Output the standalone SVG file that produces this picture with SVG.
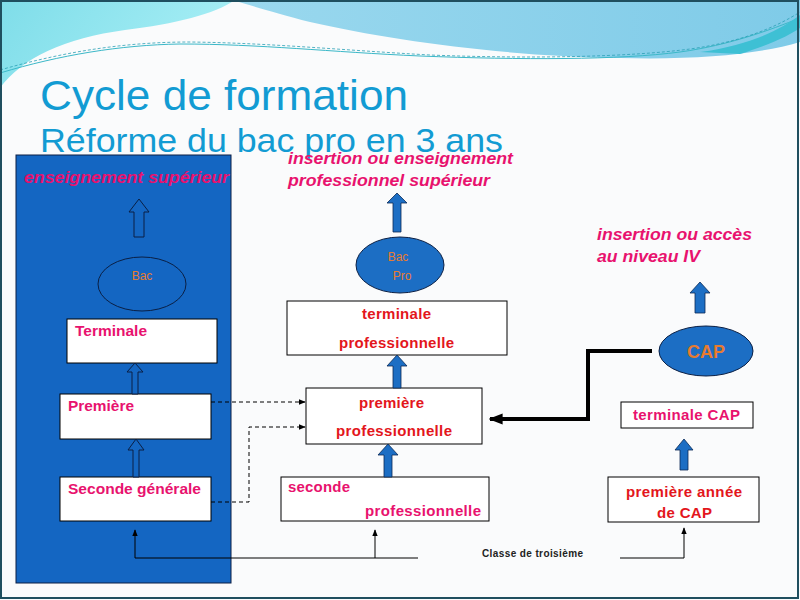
<svg xmlns="http://www.w3.org/2000/svg" width="800" height="600" viewBox="0 0 800 600">
<defs>
<linearGradient id="cy" x1="0" y1="0" x2="1" y2="0.3"><stop offset="0" stop-color="#7fdde9"/><stop offset="1" stop-color="#a6eef5"/></linearGradient>
<linearGradient id="bl" x1="0" y1="0" x2="1" y2="0"><stop offset="0" stop-color="#9ad8ee"/><stop offset="1" stop-color="#7fcbe8"/></linearGradient>
<marker id="ah" viewBox="0 0 10 10" refX="9" refY="5" markerWidth="7" markerHeight="7" orient="auto-start-reverse" markerUnits="userSpaceOnUse"><path d="M0,1 L10,5 L0,9 Z" fill="#000"/></marker>
<marker id="ahb" viewBox="0 0 10 10" refX="9" refY="5" markerWidth="14" markerHeight="14" orient="auto" markerUnits="userSpaceOnUse"><path d="M0,1 L10,5 L0,9 Z" fill="#000"/></marker>
</defs>
<style>
.mag{fill:#e8126e;font-family:"Liberation Sans",Arial,sans-serif;font-weight:bold}
.red{fill:#e3161c;font-family:"Liberation Sans",Arial,sans-serif;font-weight:bold;font-size:15px}
.it{font-style:italic;font-size:16.5px}
.box{fill:#fff;stroke:#000;stroke-width:1}
.org{fill:#e87b2f;font-family:"Liberation Sans",Arial,sans-serif}
.barrow{fill:#1c6ec4;stroke:#0a2a55;stroke-width:0.8}
.harrow{fill:#1466c2;stroke:#0a1f44;stroke-width:1}
.ttl{fill:#129bd3;font-family:"Liberation Sans",Arial,sans-serif}
.thin{stroke:#000;stroke-width:1;fill:none}
.dash{stroke:#000;stroke-width:1;fill:none;stroke-dasharray:4,3}
</style>
<rect x="0" y="0" width="800" height="600" fill="#fafbfc"/>
<g id="header">
<path d="M0,0 L235,0 C215,14 175,24 125,30 C65,38 22,58 0,88 Z" fill="url(#cy)"/>
<path d="M232,0 L800,0 L800,42 C760,54 700,60 620,58 C500,56 390,40 310,22 C275,13 250,5 232,0 Z" fill="url(#bl)"/>
<path d="M0,73 C60,55 120,45 180,44 C260,44 330,52 420,56 C520,60 620,60 680,52 C730,45 770,30 800,18" fill="none" stroke="#3bb8c8" stroke-width="1"/>
<path d="M0,70 C70,50 130,42 190,42 C270,43 340,50 430,55 C530,59 630,57 690,49 C740,42 775,28 800,12" fill="none" stroke="#2a9fb5" stroke-width="0.8" stroke-dasharray="3,2"/>
<path d="M800,15 C780,30 750,45 700,52 L740,54 C770,45 790,35 800,28 Z" fill="#3ec0d4"/>
</g>
<rect x="1" y="1" width="797" height="597" fill="none" stroke="#1f4f5f" stroke-width="2"/>
<text x="40" y="110" class="ttl" font-size="42" textLength="368" lengthAdjust="spacingAndGlyphs">Cycle de formation</text>
<text x="40" y="152" class="ttl" font-size="34" textLength="463" lengthAdjust="spacingAndGlyphs">Réforme du bac pro en 3 ans</text>
<g id="panel">
<rect x="16" y="155" width="215" height="428" fill="#1466c2" stroke="#0a1f44" stroke-width="1"/>
<text x="24" y="183" class="mag it" style="font-size:16px" textLength="205" lengthAdjust="spacingAndGlyphs">enseignement supérieur</text>
</g>
<g id="arrow-sup">
<path d="M134,237 L134,212 L129,212 L139,199 L149,212 L144,212 L144,237 Z" class="harrow"/>
</g>
<g id="bac">
<ellipse cx="142" cy="284" rx="44" ry="27" fill="none" stroke="#0a1f44" stroke-width="1"/>
<text x="142" y="280" class="org" font-size="12" text-anchor="middle">Bac</text>
</g>
<g id="terminale">
<rect x="67" y="319" width="150" height="44" class="box"/>
<text x="75" y="336" class="mag" font-size="15" textLength="72" lengthAdjust="spacingAndGlyphs">Terminale</text>
</g>
<g id="premiere">
<rect x="60" y="394" width="151" height="45" class="box"/>
<text x="68" y="411" class="mag" font-size="15" textLength="66" lengthAdjust="spacingAndGlyphs">Première</text>
</g>
<g id="seconde-generale">
<rect x="60" y="477" width="151" height="44" class="box"/>
<text x="68" y="494" class="mag" font-size="15" textLength="133" lengthAdjust="spacingAndGlyphs">Seconde générale</text>
</g>
<g id="col-mid-title">
<text x="288" y="164" class="mag it" textLength="225" lengthAdjust="spacingAndGlyphs">insertion ou enseignement</text>
<text x="288" y="186" class="mag it" textLength="202" lengthAdjust="spacingAndGlyphs">professionnel supérieur</text>
</g>
<g id="bac-pro">
<ellipse cx="400" cy="265" rx="44" ry="28" fill="#1c6ec4" stroke="#0a1f44" stroke-width="1"/>
<text x="398" y="261" class="org" font-size="12" text-anchor="middle">Bac</text>
<text x="402" y="280" class="org" font-size="12" text-anchor="middle">Pro</text>
</g>
<g id="terminale-pro">
<rect x="287" y="301" width="220" height="54" class="box"/>
<text x="362" y="319" class="red" textLength="69">terminale</text>
<text x="339" y="348" class="red" textLength="115">professionnelle</text>
</g>
<g id="premiere-pro">
<rect x="306" y="388" width="176" height="56" class="box"/>
<text x="359" y="408" class="red" textLength="65">première</text>
<text x="336" y="436" class="red" textLength="116">professionnelle</text>
</g>
<g id="seconde-pro">
<rect x="281" y="477" width="208" height="44" class="box"/>
<text x="288" y="492" class="mag" font-size="15" textLength="62">seconde</text>
<text x="365" y="516" class="mag" font-size="15" textLength="116">professionnelle</text>
</g>
<g id="col-right-title">
<text x="597" y="240" class="mag it" textLength="155" lengthAdjust="spacingAndGlyphs">insertion ou accès</text>
<text x="597" y="262" class="mag it" textLength="103" lengthAdjust="spacingAndGlyphs">au niveau IV</text>
</g>
<g id="cap">
<ellipse cx="706" cy="351" rx="47" ry="25" fill="#1c6ec4" stroke="#0a1f44" stroke-width="1"/>
<text x="706" y="358" class="org" font-size="18" font-weight="bold" text-anchor="middle">CAP</text>
</g>
<g id="terminale-cap">
<rect x="621" y="402" width="132" height="26" class="box"/>
<text x="633" y="420" class="mag" font-size="15" textLength="107">terminale CAP</text>
</g>
<g id="premiere-cap">
<rect x="608" y="477" width="151" height="45" class="box"/>
<text x="626" y="497" class="red" textLength="116">première année</text>
<text x="657" y="518" class="red" textLength="55">de CAP</text>
</g>
<text x="482" y="557" font-family="Liberation Sans,Arial,sans-serif" font-size="10" font-weight="bold" fill="#222" textLength="101">Classe de troisième</text>
<g id="connectors">
<path d="M132,394 L132,372 L127,372 L135,363 L143,372 L138,372 L138,394 Z" class="harrow"/>
<path d="M133,477 L133,450 L128,450 L136,439 L144,450 L139,450 L139,477 Z" class="harrow"/>
<path d="M393,232 L393,203 L387,203 L397,193 L407,203 L401,203 L401,232 Z" class="barrow"/>
<path d="M393,388 L393,366 L387,366 L397,355 L407,366 L401,366 L401,388 Z" class="barrow"/>
<path d="M384,477 L384,455 L378,455 L388,444 L398,455 L392,455 L392,477 Z" class="barrow"/>
<path d="M695,313 L695,293 L690,293 L700,282 L710,293 L705,293 L705,313 Z" class="barrow"/>
<path d="M680,470 L680,450 L675,450 L684,439 L693,450 L688,450 L688,470 Z" class="barrow"/>
<path d="M211,402 L305,402" class="dash" marker-end="url(#ah)"/>
<path d="M211,502 L249,502 L249,427 L305,427" class="dash" marker-end="url(#ah)"/>
<path d="M418,558 L135,558 L135,530" class="thin" marker-end="url(#ah)"/>
<path d="M375,558 L375,530" class="thin" marker-end="url(#ah)"/>
<path d="M620,558 L684,558 L684,528" class="thin" marker-end="url(#ah)"/>
<path d="M652,351 L588,351 L588,419 L490,419" fill="none" stroke="#000" stroke-width="4" marker-end="url(#ahb)"/>
</g>
</svg>
